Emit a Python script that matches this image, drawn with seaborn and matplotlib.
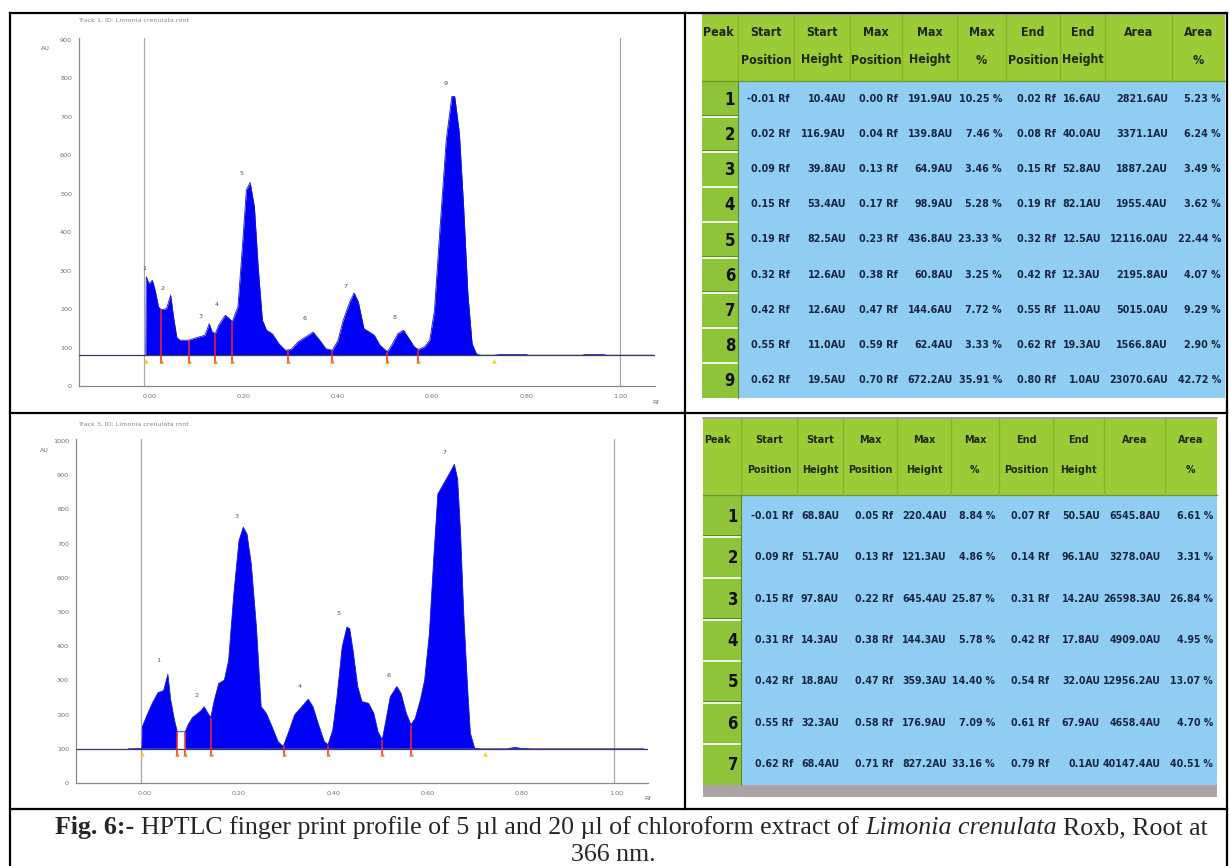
import os
import matplotlib
matplotlib.use("Agg")
import numpy as np
import pandas as pd
import matplotlib.pyplot as plt
import seaborn as sns
from matplotlib import font_manager
from matplotlib.font_manager import FontProperties
from matplotlib.patches import Rectangle

sns.set_theme(style="white")
plt.rcParams['font.family'] = ['DejaVu Sans']

# ------------------------------------------------------------------ data
# Track 1 (5 ul) densitogram (Rf, AU)
track1_rf = [-0.009, -0.008, -0.002, 0.005, 0.011, 0.018, 0.023, 0.026, 0.035, 0.044,
             0.050, 0.057, 0.064, 0.082, 0.100, 0.117, 0.126, 0.132, 0.139, 0.146,
             0.160, 0.169, 0.175, 0.187, 0.196, 0.205, 0.213, 0.222, 0.230, 0.239,
             0.248, 0.260, 0.274, 0.288, 0.294, 0.300, 0.315, 0.333, 0.347, 0.361,
             0.374, 0.388, 0.400, 0.411, 0.425, 0.434, 0.443, 0.455, 0.466, 0.477,
             0.489, 0.505, 0.516, 0.527, 0.539, 0.551, 0.562, 0.571, 0.584, 0.595,
             0.605, 0.616, 0.630, 0.642, 0.648, 0.658, 0.667, 0.676, 0.685, 0.694,
             0.703, 0.731, 0.745, 0.800, 0.805, 0.920, 0.925, 0.965, 0.970, 1.070]
track1_au = [80, 284, 266, 275, 249, 206, 199, 199, 201, 236,
             180, 126, 119, 119, 126, 132, 162, 141, 136, 158,
             184, 175, 167, 206, 354, 510, 529, 466, 310, 171,
             145, 136, 110, 93, 94, 95, 115, 129, 140, 119,
             97, 93, 119, 171, 219, 242, 219, 149, 141, 132,
             106, 89, 110, 136, 145, 123, 102, 95, 102, 119,
             197, 397, 640, 753, 753, 657, 466, 240, 110, 84,
             80, 80, 82, 82, 80, 80, 82, 82, 80, 80]
track1_baseline = 80
track1_bound_rf = [-0.009, 0.023, 0.082, 0.139, 0.175, 0.294, 0.388, 0.505, 0.571, 0.731]
track1_bound_au = [80, 199, 119, 136, 167, 94, 93, 89, 95, 80]
track1_peak_no = ['1', '2', '3', '4', '5', '6', '7', '8', '9']
track1_label_rf = [-0.012, 0.026, 0.108, 0.143, 0.195, 0.329, 0.416, 0.521, 0.628]
track1_label_au = [306, 253, 180, 213, 553, 175, 260, 177, 787]

# Track 3 (20 ul) densitogram (Rf, AU)
track2_rf = [-0.035, -0.006, -0.005, 0.005, 0.016, 0.028, 0.040, 0.044, 0.049, 0.055,
             0.063, 0.069, 0.078, 0.086, 0.092, 0.101, 0.113, 0.120, 0.126, 0.134,
             0.140, 0.147, 0.157, 0.169, 0.178, 0.189, 0.200, 0.209, 0.217, 0.226,
             0.237, 0.247, 0.258, 0.270, 0.283, 0.292, 0.295, 0.307, 0.318, 0.332,
             0.347, 0.357, 0.369, 0.381, 0.389, 0.399, 0.408, 0.419, 0.429, 0.435,
             0.442, 0.452, 0.461, 0.475, 0.486, 0.495, 0.504, 0.512, 0.521, 0.535,
             0.544, 0.555, 0.565, 0.574, 0.585, 0.594, 0.604, 0.613, 0.622, 0.636,
             0.650, 0.657, 0.664, 0.670, 0.677, 0.685, 0.691, 0.700, 0.710, 0.770,
             0.785, 0.800, 0.820, 1.060]
track2_au = [100, 101, 165, 199, 233, 264, 270, 291, 318, 243,
             184, 150, 150, 150, 170, 191, 204, 212, 223, 204,
             191, 238, 291, 301, 359, 553, 709, 748, 728, 641,
             456, 223, 204, 165, 121, 109, 111, 155, 199, 221,
             245, 223, 170, 121, 112, 155, 252, 398, 456, 451,
             388, 282, 238, 233, 204, 150, 126, 184, 252, 282,
             262, 204, 170, 189, 243, 301, 437, 650, 845, 879,
             913, 932, 889, 738, 495, 282, 146, 102, 100, 100,
             104, 101, 100, 100]
track2_baseline = 100
track2_gap = (0.069, 0.086)
track2_bound_rf = [-0.005, 0.069, 0.086, 0.140, 0.295, 0.389, 0.504, 0.565, 0.721]
track2_bound_au = [100, 150, 150, 191, 111, 112, 126, 170, 100]
track2_peak_no = ['1', '2', '3', '4', '5', '6', '7']
track2_label_rf = [0.029, 0.109, 0.194, 0.329, 0.412, 0.518, 0.636]
track2_label_au = [359, 257, 779, 282, 495, 314, 966]

x_tick_values = [0.0, 0.2, 0.4, 0.6, 0.8, 1.0]
x_tick_labels = ['0.00', '0.20', '0.40', '0.60', '0.80', '1.00']
track1_title = "Track 1, ID: Limonia crenulata root"
track2_title = "Track 3, ID: Limonia crenulata root"

# Tables
header_top = ['Peak', 'Start', 'Start', 'Max', 'Max', 'Max', 'End', 'End', 'Area', 'Area']
header_bot = ['', 'Position', 'Height', 'Position', 'Height', '%', 'Position', 'Height', '', '%']

t1_start_pos = ['-0.01 Rf', '0.02 Rf', '0.09 Rf', '0.15 Rf', '0.19 Rf', '0.32 Rf', '0.42 Rf', '0.55 Rf', '0.62 Rf']
t1_start_h = ['10.4AU', '116.9AU', '39.8AU', '53.4AU', '82.5AU', '12.6AU', '12.6AU', '11.0AU', '19.5AU']
t1_max_pos = ['0.00 Rf', '0.04 Rf', '0.13 Rf', '0.17 Rf', '0.23 Rf', '0.38 Rf', '0.47 Rf', '0.59 Rf', '0.70 Rf']
t1_max_h = ['191.9AU', '139.8AU', '64.9AU', '98.9AU', '436.8AU', '60.8AU', '144.6AU', '62.4AU', '672.2AU']
t1_max_pct = ['10.25 %', '7.46 %', '3.46 %', '5.28 %', '23.33 %', '3.25 %', '7.72 %', '3.33 %', '35.91 %']
t1_end_pos = ['0.02 Rf', '0.08 Rf', '0.15 Rf', '0.19 Rf', '0.32 Rf', '0.42 Rf', '0.55 Rf', '0.62 Rf', '0.80 Rf']
t1_end_h = ['16.6AU', '40.0AU', '52.8AU', '82.1AU', '12.5AU', '12.3AU', '11.0AU', '19.3AU', '1.0AU']
t1_area = ['2821.6AU', '3371.1AU', '1887.2AU', '1955.4AU', '12116.0AU', '2195.8AU', '5015.0AU', '1566.8AU', '23070.6AU']
t1_area_pct = ['5.23 %', '6.24 %', '3.49 %', '3.62 %', '22.44 %', '4.07 %', '9.29 %', '2.90 %', '42.72 %']

t2_start_pos = ['-0.01 Rf', '0.09 Rf', '0.15 Rf', '0.31 Rf', '0.42 Rf', '0.55 Rf', '0.62 Rf']
t2_start_h = ['68.8AU', '51.7AU', '97.8AU', '14.3AU', '18.8AU', '32.3AU', '68.4AU']
t2_max_pos = ['0.05 Rf', '0.13 Rf', '0.22 Rf', '0.38 Rf', '0.47 Rf', '0.58 Rf', '0.71 Rf']
t2_max_h = ['220.4AU', '121.3AU', '645.4AU', '144.3AU', '359.3AU', '176.9AU', '827.2AU']
t2_max_pct = ['8.84 %', '4.86 %', '25.87 %', '5.78 %', '14.40 %', '7.09 %', '33.16 %']
t2_end_pos = ['0.07 Rf', '0.14 Rf', '0.31 Rf', '0.42 Rf', '0.54 Rf', '0.61 Rf', '0.79 Rf']
t2_end_h = ['50.5AU', '96.1AU', '14.2AU', '17.8AU', '32.0AU', '67.9AU', '0.1AU']
t2_area = ['6545.8AU', '3278.0AU', '26598.3AU', '4909.0AU', '12956.2AU', '4658.4AU', '40147.4AU']
t2_area_pct = ['6.61 %', '3.31 %', '26.84 %', '4.95 %', '13.07 %', '4.70 %', '40.51 %']

caption_bold = "Fig. 6:-"
caption_text1 = "HPTLC finger print profile of 5 \u00b5l and 20 \u00b5l of chloroform extract of"
caption_italic = "Limonia crenulata"
caption_text2 = "Roxb, Root at"
caption_line2 = "366 nm."

# ------------------------------------------------------------------ fonts
SERIF = 'Liberation Serif'
NARROW_FILE = None
_prefs = ['liberationsansnarrow-bold', 'dejavusanscondensed-bold', 'robotocondensed-bold',
          'opensans_condensed-bold', 'opensanscondensed-bold', 'notosans-condensedbold',
          'opensans-condensedbold', 'roboto_condensed-bold']
_files = {}
for f in font_manager.fontManager.ttflist:
    key = os.path.splitext(os.path.basename(f.fname))[0].lower().replace(' ', '')
    _files[key] = f.fname
for p in _prefs:
    if p in _files:
        NARROW_FILE = _files[p]
        break
if NARROW_FILE is None:
    for key, path in _files.items():
        if ('narrow' in key or 'condensed' in key) and 'bold' in key and \
                'italic' not in key and 'oblique' not in key and 'semi' not in key and 'extra' not in key:
            NARROW_FILE = path
            break


def nfont(size):
    if NARROW_FILE:
        return dict(fontproperties=FontProperties(fname=NARROW_FILE, size=size))
    return dict(fontproperties=FontProperties(family='Liberation Sans', weight='bold', size=size))


# ------------------------------------------------------------------ figure
W, H = 1229, 866
fig = plt.figure(figsize=(W / 100, H / 100), dpi=100)
fig.patch.set_facecolor('white')
cv = fig.add_axes([0, 0, 1, 1])
cv.set_xlim(0, W)
cv.set_ylim(H, 0)
cv.axis('off')
renderer = fig.canvas.get_renderer()


def text_width(s, **kw):
    t = cv.text(0, 0, s, **kw)
    w = t.get_window_extent(renderer).width
    t.remove()
    return w


def px_axes(l, r, t, b):
    ax = fig.add_axes([l / W, 1 - b / H, (r - l) / W, (b - t) / H])
    ax.patch.set_alpha(0)
    return ax


GRAY_TXT = '#707070'
SMALL = 4.6


def draw_chart(ax, rf, au, base, xlim, ylim, yticks, b_rf, b_au, l_rf, l_au, l_txt, vls, gap=None):
    rf = np.asarray(rf, float)
    au = np.asarray(au, float)
    ax.set_xlim(*xlim)
    ax.set_ylim(*ylim)
    mask = np.ones(len(rf), bool)
    if gap is not None:
        mask = ~((rf > gap[0]) & (rf < gap[1]))
    ax.fill_between(rf, base, au, where=mask, color='#0000F2', lw=0, zorder=2)
    sns.lineplot(x=rf, y=au, ax=ax, color='#1818D8', lw=0.6, sort=False,
                 estimator=None, zorder=3)
    for v in vls:
        ax.axvline(v, color='#A8A8A8', lw=0.9, zorder=1)
    ax.axhline(base, color='#3A3A5A', lw=0.9, zorder=4)
    n = len(b_rf)
    for i, (x, h) in enumerate(zip(b_rf, b_au)):
        if i == 0 or i == n - 1:
            ax.plot([x], [base - 15], marker='^', ms=3.2, color='#F2D21A', mew=0, zorder=6)
        else:
            ax.vlines(x, base - 20, h, color='#F02828', lw=1.1, zorder=5)
            ax.plot([x], [base - 16], marker='^', ms=3.2, color='#F07828', mew=0, zorder=6)
    for x, y, s in zip(l_rf, l_au, l_txt):
        ax.text(x, y, s, fontsize=SMALL, color='#505050', ha='center', va='center', zorder=7)
    ax.set_xticks(x_tick_values)
    ax.set_xticklabels(x_tick_labels)
    ax.set_yticks(yticks)
    ax.set_yticklabels([str(v) for v in yticks])
    for sp in ['top', 'right']:
        ax.spines[sp].set_visible(False)
    for sp in ['left', 'bottom']:
        ax.spines[sp].set_color('#8A8A8A')
        ax.spines[sp].set_linewidth(0.9)
    ax.tick_params(axis='both', labelsize=SMALL, labelcolor=GRAY_TXT, color='#8A8A8A',
                   width=0.6, length=3, pad=2)
    ax.tick_params(axis='x', direction='inout', length=4, pad=4)
    ax.tick_params(axis='y', direction='out')
    ax.set_xlabel('')
    ax.set_ylabel('')
    ax.grid(False)


ax1 = px_axes(79, 655, 38, 386)
draw_chart(ax1, track1_rf, track1_au, track1_baseline, (-0.151, 1.074), (0, 905),
           list(range(0, 901, 100)), track1_bound_rf, track1_bound_au,
           track1_label_rf, track1_label_au, track1_peak_no, (-0.012, 1.0))
cv.text(78, 20, track1_title, fontsize=SMALL, color='#888888', va='center', ha='left')
cv.text(41, 49, 'AU', fontsize=SMALL, color=GRAY_TXT, va='center', ha='left')
cv.text(652, 402, 'Rf', fontsize=SMALL, color=GRAY_TXT, va='center', ha='left')

ax2 = px_axes(76, 648, 439, 783)
draw_chart(ax2, track2_rf, track2_au, track2_baseline, (-0.146, 1.068), (0, 1006),
           list(range(0, 1001, 100)), track2_bound_rf, track2_bound_au,
           track2_label_rf, track2_label_au, track2_peak_no, (-0.008, 0.996), gap=track2_gap)
cv.text(78, 424, track2_title, fontsize=SMALL, color='#888888', va='center', ha='left')
cv.text(40, 450, 'AU', fontsize=SMALL, color=GRAY_TXT, va='center', ha='left')
cv.text(644, 798, 'Rf', fontsize=SMALL, color=GRAY_TXT, va='center', ha='left')

# ------------------------------------------------------------------ tables
GREEN = '#9BCB36'
GREEN_D = '#86B72A'
BLUE = '#90CDF3'
HEAD_TXT = '#1E2812'
BODY_TXT = '#1A2440'


def draw_table(xe, y_top, y_head, y_bot, cols, h_off, fs_body, fs_head, fs_num):
    nrows = len(cols[0])
    row_h = (y_bot - y_head) / nrows
    x0, x1, xr = xe[0], xe[1], xe[-1]
    cv.add_patch(Rectangle((x0, y_top), xr - x0, y_head - y_top, color=GREEN, lw=0, zorder=1))
    cv.add_patch(Rectangle((x0, y_head), x1 - x0, y_bot - y_head, color='#8FC43A', lw=0, zorder=1))
    cv.add_patch(Rectangle((x1, y_head), xr - x1, y_bot - y_head, color=BLUE, lw=0, zorder=1))
    cv.plot([x0, xr], [y_top + 0.8, y_top + 0.8], color='#A496B4', lw=1.3, zorder=2)
    cv.plot([x0, xr], [y_head, y_head], color='#6F9A28', lw=1.0, zorder=2)
    for x in xe[1:-1]:
        cv.plot([x, x], [y_top, y_head], color=GREEN_D, lw=1.0, zorder=2)
    for i in range(1, nrows):
        y = y_head + i * row_h
        cv.plot([x0, x1], [y - 1, y - 1], color='#5E8A22', lw=0.8, zorder=2)
        cv.plot([x0, x1], [y + 0.5, y + 0.5], color='#F2F8E2', lw=1.4, zorder=2)
    cv.plot([x1, x1], [y_head, y_bot], color='#5E8A22', lw=0.8, zorder=2)
    # header text
    for c in range(len(xe) - 1):
        if c == 0:
            cv.text(x0 + 1, y_top + h_off[0], header_top[c], color=HEAD_TXT, ha='left',
                    va='center', zorder=3, **nfont(fs_head))
            continue
        xc = (xe[c] + xe[c + 1]) / 2
        cv.text(xc, y_top + h_off[0], header_top[c], color=HEAD_TXT, ha='center',
                va='center', zorder=3, **nfont(fs_head))
        if header_bot[c]:
            cv.text(xc, y_top + h_off[1], header_bot[c], color=HEAD_TXT, ha='center',
                    va='center', zorder=3, **nfont(fs_head))
    # body
    for r in range(nrows):
        yc = y_head + (r + 0.5) * row_h
        cv.text(x1 - 3, yc + 1, str(r + 1), color='#101010', ha='right', va='center',
                zorder=3, **nfont(fs_num))
        for c, col in enumerate(cols):
            cv.text(xe[c + 2] - 4, yc, col[r], color=BODY_TXT, ha='right', va='center',
                    zorder=3, **nfont(fs_body))


t1_cols = [t1_start_pos, t1_start_h, t1_max_pos, t1_max_h, t1_max_pct,
           t1_end_pos, t1_end_h, t1_area, t1_area_pct]
t2_cols = [t2_start_pos, t2_start_h, t2_max_pos, t2_max_h, t2_max_pct,
           t2_end_pos, t2_end_h, t2_area, t2_area_pct]

fs_b1 = 10 * 53 * 1.1 / text_width('23070.6AU', **nfont(10))
fs_b2 = 10 * 56 * 1.03 / text_width('40147.4AU', **nfont(10))
fs_h1 = 10 * 46 * 1.1 / text_width('Position', **nfont(10))
fs_h2 = 10 * 40 * 1.1 / text_width('Position', **nfont(10))
fs_n = 12.0

draw_table([702, 738, 794, 850, 902, 957, 1006, 1060, 1105, 1172, 1225],
           13, 81, 398, t1_cols, (19, 47), fs_b1, fs_h1, fs_n)
draw_table([703, 741, 797, 843, 897, 951, 999, 1053, 1104, 1165, 1217],
           417, 495, 785, t2_cols, (23, 53), fs_b2, fs_h2, fs_n)
cv.add_patch(Rectangle((703, 785), 1217 - 703, 12, color='#ADA3A6', lw=0, zorder=1))

# ------------------------------------------------------------------ borders
bk = dict(color='black', lw=1.6, zorder=10, solid_capstyle='projecting')
cv.plot([10, 1227], [13, 13], **bk)
cv.plot([10, 10], [13, 866], **bk)
cv.plot([1227, 1227], [13, 866], **bk)
cv.plot([685, 685], [13, 809], **bk)
cv.plot([10, 1227], [413, 413], **bk)
cv.plot([10, 1227], [809, 809], **bk)


# ------------------------------------------------------------------ caption
def cap_widths(fs):
    wb = text_width(caption_bold, fontsize=fs, family=SERIF, weight='bold')
    w1 = text_width(caption_text1, fontsize=fs, family=SERIF)
    wi = text_width(caption_italic, fontsize=fs, family=SERIF, style='italic')
    w2 = text_width(caption_text2, fontsize=fs, family=SERIF)
    sp = text_width('a a', fontsize=fs, family=SERIF) - text_width('aa', fontsize=fs, family=SERIF)
    return wb, w1, wi, w2, sp


wb, w1, wi, w2, sp = cap_widths(10)
total = wb + w1 + wi + w2 + 3 * sp
fs_cap = 10 * 1152 / total
wb, w1, wi, w2, sp = cap_widths(fs_cap)
x = 55
yb = 834
cv.text(x, yb, caption_bold, fontsize=fs_cap, family=SERIF, weight='bold', va='baseline', ha='left')
x += wb + sp
cv.text(x, yb, caption_text1, fontsize=fs_cap, family=SERIF, va='baseline', ha='left')
x += w1 + sp
cv.text(x, yb, caption_italic, fontsize=fs_cap, family=SERIF, style='italic', va='baseline', ha='left')
x += wi + sp
cv.text(x, yb, caption_text2, fontsize=fs_cap, family=SERIF, va='baseline', ha='left')
cv.text(613, 861, caption_line2, fontsize=fs_cap, family=SERIF, va='baseline', ha='center')

fig.savefig('out.png', dpi=100)
